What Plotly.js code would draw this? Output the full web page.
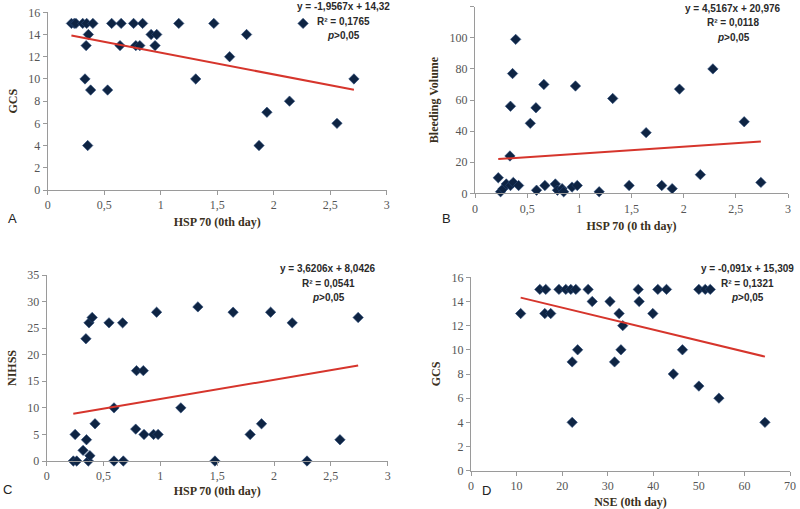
<!DOCTYPE html>
<html>
<head>
<meta charset="utf-8">
<script src="https://cdn.plot.ly/plotly-3.0.1.min.js"></script>
<style>
html,body{margin:0;padding:0;background:#fff;}
#chart{width:800px;height:509px;}
</style>
</head>
<body>
<div id="chart"></div>
<script>
// Panel A: HSP 70 (0th day) vs GCS
const aX = [0.21,0.235,0.25,0.31,0.345,0.40,0.566,0.65,0.76,0.84,
            0.36,0.915,0.965,
            0.34,0.64,0.78,0.815,0.95,
            0.33,0.38,0.53,0.354,
            1.16,1.31,1.47,1.61,1.76,1.87,1.94,2.14,2.26,2.56,2.71];
const aY = [15,15,15,15,15,15,15,15,15,15,
            14,14,14,
            13,13,13,13,13,
            10,9,9,4,
            15,10,15,12,14,4,7,8,15,6,10];
// Panel B: HSP 70 (0 th day) vs Bleeding Volume
const bX = [0.223,0.245,0.27,0.30,0.34,0.335,0.34,0.36,0.39,0.367,0.418,
            0.53,0.584,0.59,0.66,0.67,0.77,0.79,0.835,0.85,0.93,0.98,0.963,
            1.19,1.32,1.477,1.64,1.79,1.89,1.96,2.16,2.28,2.58,2.74];
const bY = [10,1,3,6,5,24,56,77,99,7,5,
            45,55,2,70,5,6,2,3,1,4,5,69,
            1,61,5,39,5,3,67,12,80,46,7];
// Panel C: HSP 70 (0th day) vs NIHSS
const cX = [0.234,0.264,0.25,0.32,0.35,0.366,0.38,0.345,0.372,0.40,0.425,
            0.548,0.592,0.592,0.668,0.674,0.783,0.79,0.85,0.856,0.94,0.98,0.967,
            1.18,1.33,1.48,1.64,1.79,1.89,1.97,2.16,2.29,2.58,2.74];
const cY = [0,0,5,2,4,0,1,23,26,27,7,
            26,10,0,26,0,6,17,17,5,5,5,28,
            10,29,0,28,5,7,28,26,0,4,27];
// Panel D: NSE (0th day) vs GCS
const dX = [15.1,16.4,19.3,20.8,21.9,23.0,25.7,36.7,41.0,42.9,50.0,51.4,52.5,
            26.6,30.5,36.9,
            10.9,16.2,17.5,32.5,39.9,
            33.3,
            23.4,32.9,46.4,
            22.2,31.5,
            44.4,50.0,54.4,22.2,64.5];
const dY = [15,15,15,15,15,15,15,15,15,15,15,15,15,
            14,14,14,
            13,13,13,13,13,
            12,
            10,10,10,
            9,9,
            8,7,6,4,4];

// Regression coefficients (as printed on the chart)
const slopes = [-1.9567, 4.5167, 3.6206, -0.091];
const intercepts = [14.32, 20.976, 8.0426, 15.309];
const eqTexts = ['y = -1,9567x + 14,32', 'y = 4,5167x + 20,976', 'y = 3,6206x + 8,0426', 'y = -0,091x + 15,309'];
const r2Texts = ['R² = 0,1765', 'R² = 0,0118', 'R² = 0,0541', 'R² = 0,1321'];
const xTitles = ['HSP 70 (0th day)', 'HSP 70 (0 th day)', 'HSP 70 (0th day)', 'NSE (0th day)'];
const yTitles = ['GCS', 'Bleeding Volume', 'NIHSS', 'GCS'];
const panelLetters = ['A', 'B', 'C', 'D'];

const xs = [aX, bX, cX, dX];
const ys = [aY, bY, cY, dY];
const W = 800, H = 509;

// pixel boxes [left, right, top, bottom]
const boxes = [[47.7,386.7,12.3,190],[475,788,6.7,193.3],[46.7,387.7,275,461],[471,790,277.3,470.7]];
const yRanges = [[0,16],[0,120],[0,35],[0,16]];
const yDticks = [2,20,5,2];
const xRanges = [[0,3],[0,3],[0,3],[0,70]];
const xDticks = [0.5,0.5,0.5,10];
const xStandoff = [6,6,4,12];
const eqPos = [[343,6.5],[733,8],[328,268.5],[747,268.5]];
const letterPos = [[12,218],[446,218],[7,489],[486,490]];

const serif = '"Liberation Serif", "Times New Roman", serif';
const sans = '"Liberation Sans", Arial, sans-serif';
const traces = [];
const layout = {
  width: W, height: H,
  margin: {l:0, r:0, t:0, b:0},
  paper_bgcolor: '#fff', plot_bgcolor: '#fff',
  showlegend: false,
  separators: ', ',
  annotations: []
};

for (let i = 0; i < 4; i++) {
  const n = i === 0 ? '' : String(i + 1);
  const b = boxes[i];
  const xa = 'xaxis' + n, ya = 'yaxis' + n;
  layout[xa] = {
    domain: [b[0] / W, b[1] / W], range: xRanges[i], dtick: xDticks[i], tick0: 0,
    showgrid: false, zeroline: false, showline: true, linecolor: '#9a9a9a', linewidth: 1,
    ticks: 'outside', ticklen: 4, tickcolor: '#9a9a9a',
    tickfont: {family: serif, size: 12, color: '#555'},
    anchor: 'y' + n,
    title: {text: '<b>' + xTitles[i] + '</b>', font: {family: serif, size: 12, color: '#3a3020'}, standoff: xStandoff[i]}
  };
  layout[ya] = {
    domain: [1 - b[3] / H, 1 - b[2] / H], range: yRanges[i], dtick: yDticks[i], tick0: 0,
    showgrid: false, zeroline: false, showline: true, linecolor: '#9a9a9a', linewidth: 1,
    ticks: 'outside', ticklen: 4, tickcolor: '#9a9a9a',
    tickfont: {family: serif, size: 12, color: '#555'},
    anchor: 'x' + n,
    title: {text: '<b>' + yTitles[i] + '</b>', font: {family: serif, size: 12, color: '#3a3020'}, standoff: 8}
  };
  traces.push({
    type: 'scatter', mode: 'markers', x: xs[i], y: ys[i],
    xaxis: 'x' + n, yaxis: 'y' + n,
    marker: {symbol: 'diamond', size: 8, color: '#0e2443', line: {width: 0.6, color: '#2a4a78'}},
    cliponaxis: false, hoverinfo: 'skip'
  });
  const x0 = Math.min(...xs[i]), x1 = Math.max(...xs[i]);
  traces.push({
    type: 'scatter', mode: 'lines', x: [x0, x1],
    y: [slopes[i] * x0 + intercepts[i], slopes[i] * x1 + intercepts[i]],
    xaxis: 'x' + n, yaxis: 'y' + n,
    line: {color: '#d6352c', width: 2}, hoverinfo: 'skip'
  });
  const ep = eqPos[i];
  const lines = [eqTexts[i], r2Texts[i], '<i>p</i>>0,05'];
  lines.forEach((t, k) => {
    layout.annotations.push({
      xref: 'paper', yref: 'paper', x: ep[0] / W, y: 1 - (ep[1] + k * 14.5) / H,
      xanchor: 'center', yanchor: 'middle', showarrow: false,
      text: '<b>' + t + '</b>', font: {family: sans, size: 10, color: '#2a2a2a'}
    });
  });
  layout.annotations.push({
    xref: 'paper', yref: 'paper', x: letterPos[i][0] / W, y: 1 - letterPos[i][1] / H,
    xanchor: 'center', yanchor: 'middle', showarrow: false,
    text: panelLetters[i], font: {family: sans, size: 13, color: '#222'}
  });
}

Plotly.newPlot('chart', traces, layout, {staticPlot: true, displayModeBar: false});
</script>
</body>
</html>
